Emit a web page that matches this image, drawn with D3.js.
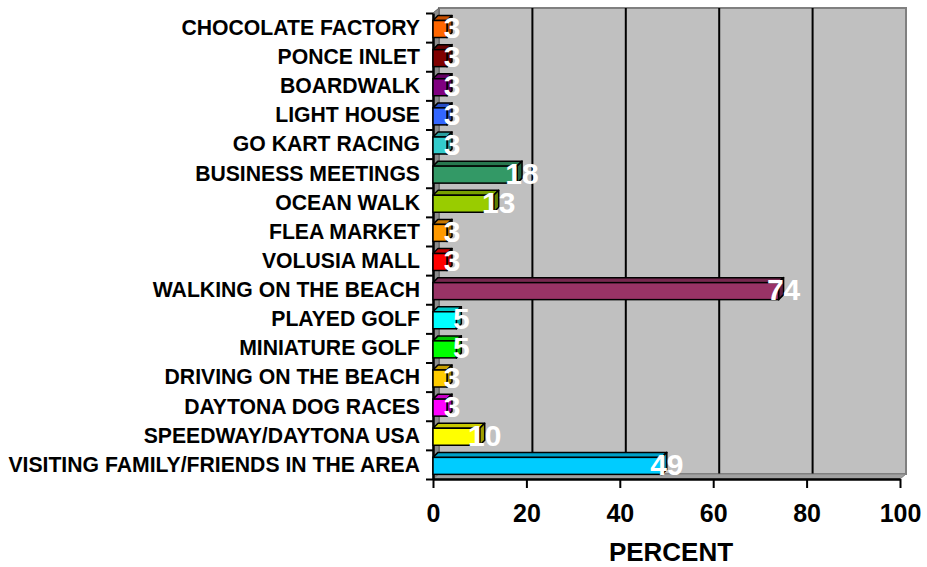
<!DOCTYPE html>
<html>
<head>
<meta charset="utf-8">
<script src="https://cdn.jsdelivr.net/npm/d3@7"></script>
<style>
  body { margin: 0; background: #fff; }
  text { font-family: Arial, "Liberation Sans", Helvetica, sans-serif; font-weight: bold; }
</style>
</head>
<body>
<div id="chart"></div>
<script>
'use strict'

var categories = [
  'CHOCOLATE FACTORY', 'PONCE INLET', 'BOARDWALK', 'LIGHT HOUSE', 'GO KART RACING',
  'BUSINESS MEETINGS', 'OCEAN WALK', 'FLEA MARKET', 'VOLUSIA MALL', 'WALKING ON THE BEACH',
  'PLAYED GOLF', 'MINIATURE GOLF', 'DRIVING ON THE BEACH', 'DAYTONA DOG RACES',
  'SPEEDWAY/DAYTONA USA', 'VISITING FAMILY/FRIENDS IN THE AREA'
];
var values = [3, 3, 3, 3, 3, 18, 13, 3, 3, 74, 5, 5, 3, 3, 10, 49];
var colors = [
  '#FF6600', '#800000', '#800080', '#3366FF', '#33CCCC',
  '#339966', '#99CC00', '#FF9900', '#FF0000', '#993366',
  '#00FFFF', '#00FF00', '#FFCC00', '#FF00FF', '#FFFF00', '#00CCFF'
];
var xTicks = [0, 20, 40, 60, 80, 100];
var xTitle = 'PERCENT';

(function() {
  var width = 927, height = 567;
  var plot = { left: 433, right: 900, top: 13, bottom: 479 };
  var depth = { dx: 6, dy: 5 };
  var bar = { offset: 7.5, height: 17, dx: 5, dy: 5 };

  var svg = d3.select('#chart').append('svg')
    .attr('width', width)
    .attr('height', height);

  var x = d3.scaleLinear()
    .domain([0, 100])
    .range([plot.left, plot.right]);

  var y = d3.scaleBand()
    .domain(categories)
    .range([plot.top, plot.bottom]);

  var idx = d3.scaleLinear()
    .domain([0, categories.length])
    .range([plot.top, plot.bottom]);

  // back wall
  svg.append('rect')
    .attr('x', plot.left + depth.dx)
    .attr('y', plot.top - depth.dy)
    .attr('width', plot.right - plot.left)
    .attr('height', plot.bottom - plot.top)
    .attr('style', 'fill: #C0C0C0; stroke: #808080; stroke-width: 2;');

  // gridlines on back wall
  svg.append('g')
    .selectAll('line')
    .data(xTicks.slice(1, -1))
    .enter()
    .append('line')
    .attr('x1', function(d) { return x(d) + depth.dx; })
    .attr('x2', function(d) { return x(d) + depth.dx; })
    .attr('y1', plot.top - depth.dy)
    .attr('y2', plot.bottom - depth.dy)
    .attr('style', 'stroke: #000; stroke-width: 2;');

  // left wall
  svg.append('path')
    .attr('d', 'M' + plot.left + ',' + plot.top +
      'L' + (plot.left + depth.dx) + ',' + (plot.top - depth.dy) +
      'L' + (plot.left + depth.dx) + ',' + (plot.bottom - depth.dy) +
      'L' + plot.left + ',' + plot.bottom + 'Z')
    .attr('style', 'fill: #8C8C8C; stroke: #606060; stroke-width: 1;');

  // floor
  svg.append('path')
    .attr('d', 'M' + plot.left + ',' + plot.bottom +
      'L' + (plot.left + depth.dx) + ',' + (plot.bottom - depth.dy) +
      'L' + (plot.right + depth.dx) + ',' + (plot.bottom - depth.dy) +
      'L' + plot.right + ',' + plot.bottom + 'Z')
    .attr('style', 'fill: #A0A0A0; stroke: #808080; stroke-width: 1;');

  // value axis
  var xAxis = d3.axisBottom(x)
    .tickValues(xTicks)
    .tickSize(9)
    .tickSizeOuter(0);
  var gx = svg.append('g')
    .attr('transform', 'translate(0,' + plot.bottom + ')')
    .call(xAxis);
  gx.select('.domain').attr('stroke-width', 2.5);
  gx.selectAll('.tick line').attr('stroke-width', 2);
  gx.selectAll('.tick text')
    .attr('y', 43)
    .attr('dy', 0)
    .attr('fill', '#000')
    .style('font-size', '25px');

  svg.append('text')
    .attr('x', 671)
    .attr('y', 561)
    .attr('text-anchor', 'middle')
    .style('font-size', '26px')
    .text(xTitle);

  // category axis: boundary ticks
  var tickAxis = d3.axisLeft(idx)
    .tickValues(d3.range(categories.length + 1))
    .tickFormat('')
    .tickSize(7)
    .tickSizeOuter(0);
  var gt = svg.append('g')
    .attr('transform', 'translate(' + plot.left + ',0)')
    .call(tickAxis);
  gt.select('.domain').attr('stroke-width', 2.5);
  gt.selectAll('.tick line').attr('stroke-width', 2);

  // category labels
  var yAxis = d3.axisLeft(y).tickSize(0).tickPadding(13);
  var gy = svg.append('g')
    .attr('transform', 'translate(' + plot.left + ',0)')
    .call(yAxis);
  gy.select('.domain').remove();
  gy.selectAll('.tick text')
    .attr('dy', '0.35em')
    .attr('fill', '#000')
    .style('font-size', '21.2px');

  // 3D bars
  var rows = categories.map(function(c, i) {
    return { name: c, value: values[i], color: colors[i] };
  });

  var bars = svg.append('g')
    .selectAll('g')
    .data(rows)
    .enter()
    .append('g');

  bars.append('path')
    .attr('d', function(d) {
      var x0 = x(0), x1 = x(d.value), y0 = y(d.name) + bar.offset;
      return 'M' + x0 + ',' + y0 +
        'L' + (x0 + bar.dx) + ',' + (y0 - bar.dy) +
        'L' + (x1 + bar.dx) + ',' + (y0 - bar.dy) +
        'L' + x1 + ',' + y0 + 'Z';
    })
    .attr('fill', function(d) { return d3.color(d.color).darker(0.7); })
    .attr('style', 'stroke: #000; stroke-width: 1.5; stroke-linejoin: round;');

  bars.append('path')
    .attr('d', function(d) {
      var x1 = x(d.value), y0 = y(d.name) + bar.offset;
      return 'M' + x1 + ',' + y0 +
        'L' + (x1 + bar.dx) + ',' + (y0 - bar.dy) +
        'L' + (x1 + bar.dx) + ',' + (y0 + bar.height - bar.dy) +
        'L' + x1 + ',' + (y0 + bar.height) + 'Z';
    })
    .attr('fill', function(d) { return d3.color(d.color).darker(1.3); })
    .attr('style', 'stroke: #000; stroke-width: 1.5; stroke-linejoin: round;');

  bars.append('rect')
    .attr('x', x(0))
    .attr('y', function(d) { return y(d.name) + bar.offset; })
    .attr('width', function(d) { return x(d.value) - x(0); })
    .attr('height', bar.height)
    .attr('fill', function(d) { return d.color; })
    .attr('style', 'stroke: #000; stroke-width: 1.5;');

  // data labels
  svg.append('g')
    .selectAll('text')
    .data(rows)
    .enter()
    .append('text')
    .attr('x', function(d) { return x(d.value) + 5; })
    .attr('y', function(d) { return y(d.name) + y.bandwidth() / 2 + 10.5; })
    .attr('text-anchor', 'middle')
    .attr('fill', '#fff')
    .style('font-size', '30px')
    .text(function(d) { return d.value; });
})();
</script>
</body>
</html>
